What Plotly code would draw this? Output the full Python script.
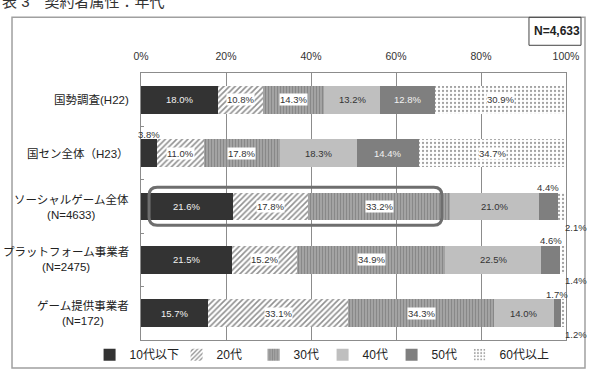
import plotly.graph_objects as go

categories = ["国勢調査(H22)", "国セン全体(H23)", "ソーシャルゲーム全体", "プラットフォーム事業者", "ゲーム提供事業者"]
row_labels = ["国勢調査(H22)", "国セン全体（H23）", "ソーシャルゲーム全体<br>(N=4633)",
              "プラットフォーム事業者<br>(N=2475)", "ゲーム提供事業者<br>(N=172)"]
series_names = ["10代以下", "20代", "30代", "40代", "50代", "60代以上"]
v_10s = [18.0, 3.8, 21.6, 21.5, 15.7]
v_20s = [10.8, 11.0, 17.8, 15.2, 33.1]
v_30s = [14.3, 17.8, 33.2, 34.9, 34.3]
v_40s = [13.2, 18.3, 21.0, 22.5, 14.0]
v_50s = [12.8, 14.4, 4.4, 4.6, 1.7]
v_60s = [30.9, 34.7, 2.1, 1.4, 1.2]
series_values = [v_10s, v_20s, v_30s, v_40s, v_50s, v_60s]
x_ticks = [0, 20, 40, 60, 80, 100]
n_total = "N=4,633"
title_text = "表 3　契約者属性：年代"

FONT = "Liberation Sans, Noto Sans CJK JP, sans-serif"
markers = [
    dict(color="#333333"),
    dict(color="#ffffff", pattern=dict(shape="/", fgcolor="#222222", bgcolor="#ffffff", size=4, solidity=0.4)),
    dict(color="#111111", pattern=dict(shape="|", fgcolor="#111111", bgcolor="#ffffff", size=3, solidity=0.85)),
    dict(color="#bfbfbf"),
    dict(color="#7f7f7f"),
    dict(color="#ffffff", pattern=dict(shape=".", fgcolor="#444444", bgcolor="#ffffff", size=4, solidity=0.25)),
]
text_colors = ["#f2f2f2", "#333333", "#333333", "#333333", "#f2f2f2", "#333333"]
text_bgs = [None, "#ffffff", "#ffffff", None, None, "#ffffff"]
legend_widths = [42, 32, 24, 24, 23, 52]
LBL = 9.5

fig = go.Figure()
for name, vals, mk, lw in zip(series_names, series_values, markers, legend_widths):
    fig.add_trace(go.Bar(
        y=categories, x=vals, name=name, orientation="h", width=0.52,
        marker=dict(**mk, line=dict(width=0)), legendwidth=lw,
        hoverinfo="skip",
    ))

annotations = []
for i, cat in enumerate(categories):
    start = 0.0
    n_seg = len(series_values)
    for j, vals in enumerate(series_values):
        v = vals[i]
        center = start + v / 2
        label = f"{v:.1f}%"
        if v >= 5:
            a = dict(x=center, y=cat, text=label, showarrow=False, xanchor="center", yanchor="middle",
                     font=dict(size=LBL, color=text_colors[j], family=FONT))
            if text_bgs[j]:
                a.update(bgcolor=text_bgs[j], borderpad=0)
            annotations.append(a)
        elif j == n_seg - 1:
            annotations.append(dict(x=100, y=cat, text=label, showarrow=False, xanchor="left",
                                    yanchor="middle", xshift=-2, yshift=-21, borderpad=0,
                                    font=dict(size=LBL, color="#333333", family=FONT)))
        else:
            annotations.append(dict(x=center, y=cat, text=label, showarrow=False, xanchor="center",
                                    yanchor="middle", yshift=19,
                                    font=dict(size=LBL, color="#333333", family=FONT)))
        start += v

for cat, lab in zip(categories, row_labels):
    annotations.append(dict(x=0, xref="paper", y=cat, text=lab, showarrow=False,
                            xanchor="right", yanchor="middle", xshift=-10, align="center",
                            font=dict(size=11.5, color="#222222", family=FONT)))

# N box text and title
annotations.append(dict(x=0.9788, y=1.1562, xref="paper", yref="paper", text=f"<b>{n_total}</b>",
                        showarrow=False, xanchor="center", yanchor="middle",
                        font=dict(size=12, color="#222222", family=FONT)))
annotations.append(dict(x=-0.332, y=1.2685, xref="paper", yref="paper", text=title_text,
                        showarrow=False, xanchor="left", yanchor="middle",
                        font=dict(size=15, color="#333333", family=FONT)))

# rounded highlight
x0, x1, y0, y1 = 1.9, 70.8, 0.430, 0.5725
rx, ry = 1.9, 0.03
path = (f"M {x0+rx},{y0} L {x1-rx},{y0} Q {x1},{y0} {x1},{y0+ry} L {x1},{y1-ry} "
        f"Q {x1},{y1} {x1-rx},{y1} L {x0+rx},{y1} Q {x0},{y1} {x0},{y1-ry} "
        f"L {x0},{y0+ry} Q {x0},{y0} {x0+rx},{y0} Z")
shapes = [
    dict(type="path", path=path, xref="x", yref="paper", line=dict(color="#6e6e6e", width=3), layer="above"),
    dict(type="rect", xref="paper", yref="paper", x0=-0.3035, x1=1.0447, y0=-0.1048, y1=1.2086,
         line=dict(color="#a0a0a0", width=1.5), layer="below"),
    dict(type="rect", xref="paper", yref="paper", x0=0.9129, x1=1.0353, y0=1.1038, y1=1.2086,
         line=dict(color="#444444", width=1)),
]

fig.update_layout(
    width=589, height=374,
    margin=dict(l=141, r=23, t=73, b=34, autoexpand=False),
    barmode="stack", bargap=0.48,
    paper_bgcolor="#ffffff", plot_bgcolor="#ffffff",
    showlegend=True,
    legend=dict(orientation="h", x=-0.121, xanchor="left", y=-0.055, yanchor="middle",
                font=dict(size=12, color="#222222", family=FONT), itemwidth=30,
                traceorder="normal", bgcolor="rgba(0,0,0,0)"),
    annotations=annotations, shapes=shapes,
    font=dict(family=FONT),
)
fig.update_xaxes(range=[0, 100], side="top", tickvals=x_ticks, ticktext=[f"{t}%" for t in x_ticks],
                 showgrid=True, gridcolor="#8c8c8c", gridwidth=1, zeroline=False,
                 showline=True, linecolor="#8c8c8c", mirror=True, ticks="",
                 ticklabelstandoff=8, tickfont=dict(size=10.5, color="#333333", family=FONT),
                 fixedrange=True, automargin=False)
fig.update_yaxes(autorange="reversed", showticklabels=False, showline=True, linecolor="#8c8c8c",
                 mirror=True, ticks="inside", ticklen=3, tickcolor="#8c8c8c", tickson="boundaries",
                 showgrid=False, fixedrange=True, automargin=False)

fig.write_html("out.html", config={"displayModeBar": False})
